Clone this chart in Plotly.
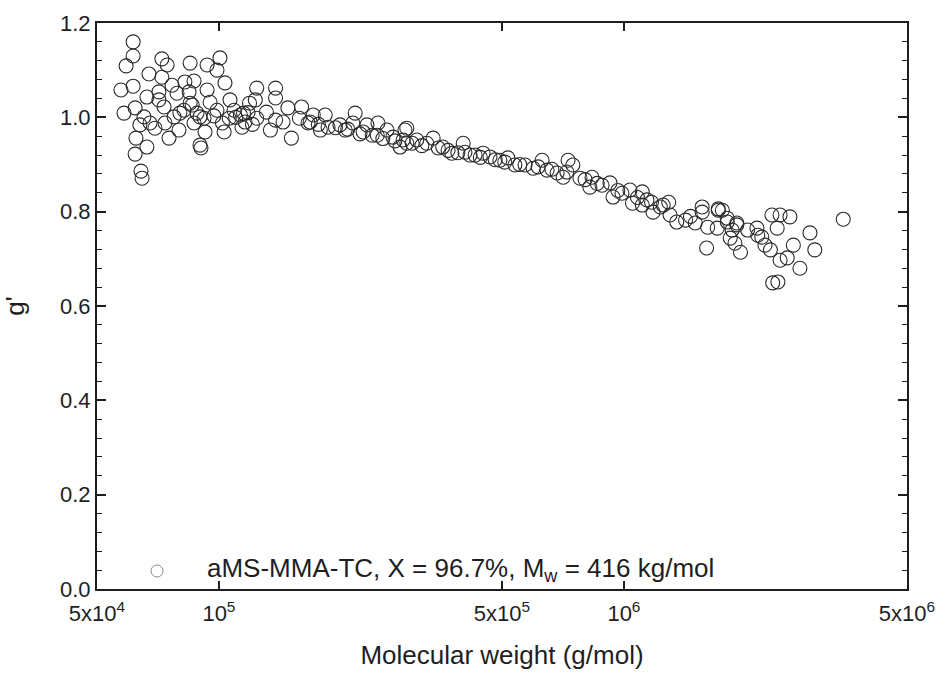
import plotly.graph_objects as go

# Molecular weight (g/mol) and g' values
mw = [
    6.14e4, 6.14e4, 5.90e4, 5.73e4, 6.14e4, 5.83e4, 6.21e4, 7.23e4, 7.45e4, 6.72e4,
    7.23e4, 7.66e4, 8.49e4, 9.35e4, 1.006e5, 9.89e4, 1.035e5, 8.24e4, 8.68e4, 9.35e4,
    7.11e4, 6.64e4, 7.11e4, 8.44e4, 8.49e4, 9.51e4, 1.065e5, 6.38e4, 6.76e4, 6.95e4,
    7.36e4, 7.75e4, 8.01e4, 7.97e4, 7.53e4, 6.24e4, 6.64e4, 6.21e4, 6.42e4, 6.46e4,
    8.68e4, 8.98e4, 9.03e4, 9.19e4, 9.24e4, 9.72e4, 9.89e4, 1.02e5, 1.03e5, 1.06e5,
    1.09e5, 1.13e5, 1.14e5, 8.59e4, 8.83e4, 6.53e4, 7.32e4, 7.88e4, 8.20e4, 8.98e4,
    1.24e5, 1.38e5, 1.23e5, 1.38e5, 1.15e5, 1.24e5, 1.31e5, 1.34e5, 1.38e5, 1.44e5,
    1.48e5, 1.51e5, 1.60e5, 1.58e5, 1.66e5, 1.71e5, 1.78e5, 1.83e5, 1.86e5, 1.99e5,
    2.05e5, 2.17e5, 2.14e5, 2.27e5, 2.32e5, 2.47e5, 2.46e5, 2.60e5, 2.69e5, 2.80e5,
    2.85e5, 2.91e5, 2.88e5, 2.91e5, 3.08e5, 3.26e5, 3.38e5, 3.57e5, 3.76e5, 4.01e5,
    4.05e5, 4.29e5, 4.49e5, 4.67e5, 4.94e5, 5.17e5, 5.38e5, 5.70e5, 5.97e5, 6.28e5,
    6.46e5, 6.84e5, 7.08e5, 7.28e5, 7.48e5, 7.23e5, 7.79e5, 8.34e5, 8.24e5, 8.83e5,
    9.24e5, 9.40e5, 9.89e5, 1.035e6, 1.05e6, 1.11e6, 1.11e6, 1.17e6, 1.18e6, 1.25e6,
    1.29e6, 1.30e6, 1.35e6, 1.42e6, 1.50e6, 1.56e6, 1.61e6, 1.71e6, 1.70e6, 1.80e6,
    1.85e6, 1.90e6, 1.75e6, 1.80e6, 1.83e6, 1.88e6, 1.90e6, 1.94e6, 2.02e6, 2.13e6,
    2.14e6, 2.19e6, 2.23e6, 2.30e6, 2.32e6, 2.43e6, 2.57e6, 2.39e6, 2.43e6, 2.53e6,
    2.62e6, 2.72e6, 2.33e6, 2.40e6, 2.88e6, 2.96e6, 3.48e6, 1.60e6, 1.56e6, 1.71e6,
    1.10e5, 1.16e5, 1.18e5, 1.19e5, 1.21e5, 1.68e5, 1.76e5, 1.94e5, 2.08e5, 2.23e5,
    2.39e5, 2.54e5, 2.72e5, 3.00e5, 3.17e5, 3.48e5, 3.68e5, 3.89e5, 4.17e5, 4.42e5,
    4.81e5, 5.08e5, 5.53e5, 6.14e5, 6.64e5, 8.02e5, 8.59e5, 9.66e5, 1.08e6, 1.14e6,
    1.23e6, 1.46e6,
]
gprime = [
    1.160, 1.130, 1.109, 1.058, 1.066, 1.009, 1.020, 1.124, 1.111, 1.092,
    1.085, 1.068, 1.115, 1.111, 1.126, 1.100, 1.073, 1.075, 1.077, 1.058,
    1.054, 1.043, 1.037, 1.054, 1.030, 1.032, 1.037, 0.984, 0.988, 0.977,
    0.988, 1.001, 1.009, 0.973, 0.956, 0.956, 0.937, 0.922, 0.886, 0.871,
    0.988, 0.941, 0.935, 0.998, 0.969, 1.003, 1.015, 0.988, 0.969, 0.998,
    1.015, 1.005, 0.979, 1.026, 1.009, 1.001, 1.022, 1.051, 1.015, 1.001,
    1.062, 1.062, 1.037, 1.041, 1.009, 0.998, 1.011, 0.973, 0.994, 0.990,
    1.020, 0.956, 1.022, 0.998, 0.988, 1.005, 0.973, 1.005, 0.979, 0.984,
    0.973, 1.009, 0.988, 0.969, 0.984, 0.988, 0.962, 0.973, 0.958, 0.937,
    0.952, 0.977, 0.973, 0.945, 0.952, 0.945, 0.956, 0.937, 0.924, 0.945,
    0.926, 0.920, 0.924, 0.916, 0.909, 0.914, 0.899, 0.899, 0.892, 0.909,
    0.888, 0.882, 0.873, 0.909, 0.899, 0.884, 0.871, 0.873, 0.852, 0.856,
    0.861, 0.831, 0.839, 0.846, 0.818, 0.842, 0.814, 0.820, 0.799, 0.814,
    0.820, 0.793, 0.778, 0.782, 0.776, 0.799, 0.767, 0.803, 0.765, 0.786,
    0.761, 0.776, 0.803, 0.778, 0.744, 0.733, 0.772, 0.714, 0.761, 0.765,
    0.750, 0.746, 0.729, 0.719, 0.793, 0.793, 0.789, 0.765, 0.697, 0.702,
    0.729, 0.680, 0.649, 0.651, 0.755, 0.719, 0.784, 0.723, 0.810, 0.806,
    1.000, 0.990, 1.010, 1.030, 0.985, 0.990, 0.985, 0.978, 0.975, 0.965,
    0.962, 0.955, 0.950, 0.945, 0.940, 0.935, 0.930, 0.925, 0.920, 0.915,
    0.910, 0.905, 0.900, 0.895, 0.890, 0.868, 0.860, 0.845, 0.830, 0.825,
    0.810, 0.790,
]

x_tickvals = [5e4, 1e5, 5e5, 1e6, 5e6]
x_ticktext = ["5x10<sup>4</sup>", "10<sup>5</sup>", "5x10<sup>5</sup>", "10<sup>6</sup>", "5x10<sup>6</sup>"]
y_tickvals = [0.0, 0.2, 0.4, 0.6, 0.8, 1.0, 1.2]
legend_text = "aMS-MMA-TC, X = 96.7%, M<sub>w</sub> = 416 kg/mol"

FONT = "Liberation Sans, Arial, sans-serif"
INK = "#1e1e1e"

fig = go.Figure()
fig.add_trace(go.Scatter(
    x=mw, y=gprime, mode="markers",
    marker=dict(symbol="circle-open", size=14, color="#2a2a2a", line=dict(width=1.1)),
    showlegend=False,
))

fig.update_layout(
    width=937, height=675,
    margin=dict(l=97, r=30, t=23, b=86, autoexpand=False),
    paper_bgcolor="white", plot_bgcolor="white",
    font=dict(family=FONT, color=INK, size=22),
    xaxis=dict(
        type="log", range=[4.69897, 6.69897], automargin=False,
        tickvals=x_tickvals, ticktext=x_ticktext,
        ticks="inside", ticklen=8, tickwidth=1.5, tickcolor=INK,
        showline=True, linecolor=INK, linewidth=2, mirror="ticks",
        showgrid=False, zeroline=False,
        tickfont=dict(size=22), ticklabelstandoff=4,
        title=dict(text="Molecular weight (g/mol)", font=dict(size=26), standoff=20),
    ),
    yaxis=dict(
        range=[0, 1.2], tickvals=y_tickvals, tickformat=".1f", automargin=False,
        ticks="inside", ticklen=9, tickwidth=1.5, tickcolor=INK,
        minor=dict(dtick=0.04, ticks="inside", ticklen=5, tickwidth=1.2, tickcolor=INK, showgrid=False),
        showline=True, linecolor=INK, linewidth=2, mirror="ticks",
        showgrid=False, zeroline=False,
        tickfont=dict(size=22),
        title=dict(text="g'", font=dict(size=26), standoff=34),
    ),
    shapes=[dict(
        type="circle", xref="paper", yref="paper",
        xsizemode="pixel", ysizemode="pixel",
        xanchor=0.0741, yanchor=0.0318,
        x0=-6, x1=6, y0=-6, y1=6,
        line=dict(color="#8a8a8a", width=1),
    )],
    annotations=[dict(
        text=legend_text, xref="paper", yref="paper",
        x=0.1333, y=0.0353, xanchor="left", yanchor="middle",
        showarrow=False, font=dict(size=26, color=INK),
    )],
)

fig.write_html("out.html")
